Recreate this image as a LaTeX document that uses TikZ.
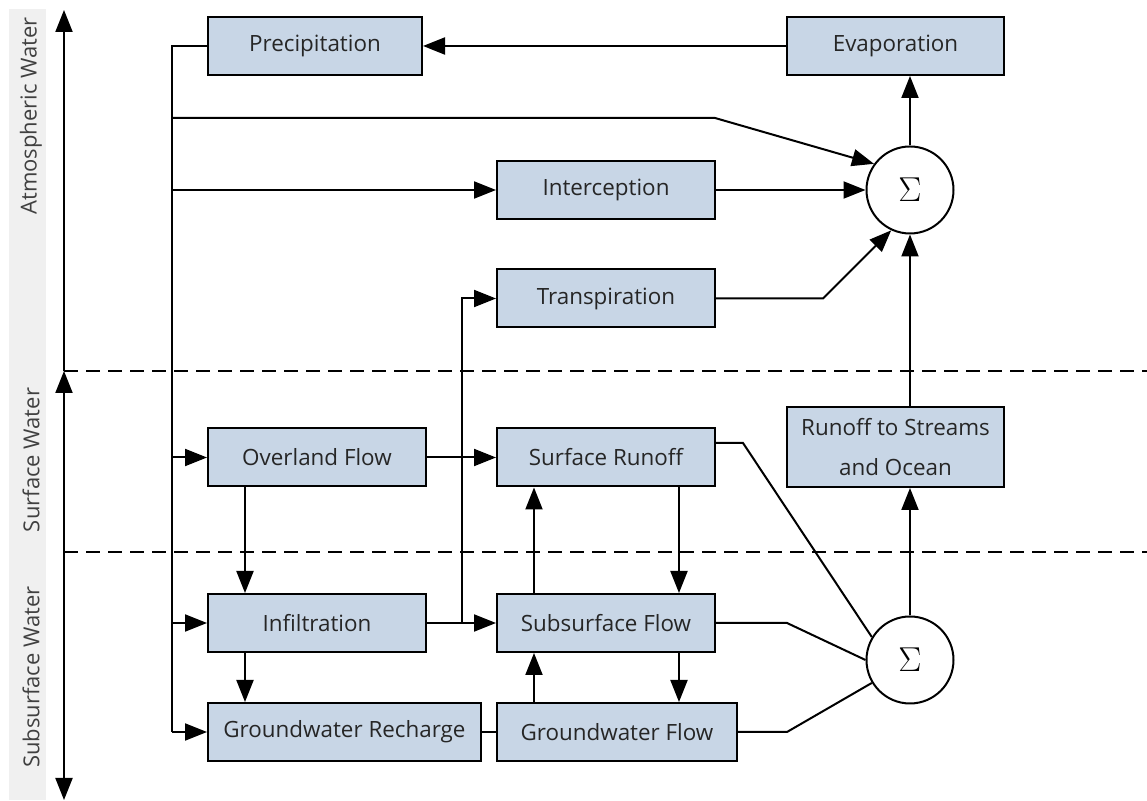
\documentclass[tikz,border=0pt]{standalone}
\usepackage{fontspec}
\setmainfont{Open Sans}
\usepackage{tikz}
\usetikzlibrary{arrows.meta,positioning}
\definecolor{boxfill}{HTML}{C8D6E6}
\definecolor{bandgray}{HTML}{F0F0F0}
\definecolor{darktext}{HTML}{262626}
\definecolor{labeltext}{HTML}{404040}

\begin{document}
\begin{tikzpicture}[
    x=0.5pt, y=0.5pt,
    process/.style={
        draw=black,
        line width=1pt,
        fill=boxfill,
        minimum width=109pt,
        minimum height=29pt,
        inner sep=0pt,
        text=darktext,
        font=\fontsize{11.2}{13}\selectfont
    },
    summer/.style={
        draw=black, circle, line width=1pt, fill=white,
        minimum size=43.5pt, inner sep=0pt,
        font=\fontsize{17}{17}\selectfont
    },
    zone/.style={rotate=90, text=labeltext, font=\fontsize{11}{13}\selectfont},
    line/.style={line width=1pt, draw=black},
    flow/.style={line, -{Triangle[length=11pt,width=8.5pt]}},
    boundary/.style={line, dash pattern=on 7pt off 4pt}
]
    \useasboundingbox (0,0) rectangle (1147,801);
    \fill[bandgray] (9,1) rectangle (46,792);

    \node[zone] (atmos) at (31,685) {Atmospheric Water};
    \node[zone] (surface) at (31,341) {Surface Water};
    \node[zone] (subsurface) at (31,124) {Subsurface Water};

    \coordinate (axtop) at (64,791);
    \coordinate (axone) at (64,430);
    \coordinate (axtwo) at (64,249);
    \coordinate (axbot) at (64,1);
    \draw[flow] (axone) -- (axtop);
    \draw[flow, {Triangle[length=11pt,width=8.5pt]}-] (axone) -- (axtwo);
    \draw[flow] (axtwo) -- (axbot);
    \draw[boundary] (axone) -- (1147,430);
    \draw[boundary] (axtwo) -- (1147,249);

    \node[process, minimum width=107pt] (precip) at (315,755) {Precipitation};
    \node[process, minimum width=108.5pt] (evap) at (895.5,755) {Evaporation};
    \node[process] (intercept) at (606,611) {Interception};
    \node[process] (transp) at (606,502.5) {Transpiration};
    \node[process] (overland) at (317,343.5) {Overland Flow};
    \node[process] (surfrun) at (606,343.5) {Surface Runoff};
    \node[process, minimum width=108.5pt, minimum height=40pt, align=center]
        (streams) at (895.5,354) {Runoff to Streams\\[7pt]and Ocean};
    \node[process] (infil) at (317,178) {Infiltration};
    \node[process] (subflow) at (606,178) {Subsurface Flow};
    \node[process, minimum width=136.5pt] (recharge) at (344.5,69) {Groundwater Recharge};
    \node[process, minimum width=120pt] (gwflow) at (617,69) {Groundwater Flow};

    \node[summer] (sumtop) at (910,611) {$\Sigma$};
    \node[summer] (sumbot) at (910,141) {$\Sigma$};

    \coordinate (bustop) at (172,755);
    \coordinate (busbot) at (172,69);
    \coordinate (bendair) at (715,683);
    \coordinate (bendtr) at (823,502.5);
    \coordinate (bendsr) at (743,358);
    \coordinate (bendsf) at (787,178);
    \coordinate (bendgw) at (787,69);
    \coordinate (dropx) at (245,0);
    \coordinate (splitx) at (462,0);
    \coordinate (upx) at (534,0);
    \coordinate (downx) at (679,0);

    \draw[flow] (evap) -- (precip);
    \draw[line] (precip.west) -- (bustop) -- (busbot);
    \draw[flow] (busbot) -- (recharge);
    \draw[flow] (bustop |- infil) -- (infil);
    \draw[flow] (bustop |- overland) -- (overland);
    \draw[flow] (bustop |- intercept) -- (intercept);
    \draw[flow] (bustop |- bendair) -- (bendair) -- (sumtop.144);

    \draw[flow] (intercept) -- (sumtop);
    \draw[flow] (transp) -- (bendtr) -- (sumtop.245);
    \draw[flow] (sumtop.north) -- (sumtop.north |- evap.south);
    \draw[flow] (sumtop.south |- streams.north) -- (sumtop.south);

    \draw[flow] (overland) -- (surfrun);
    \draw[flow] (infil) -- (subflow);
    \draw[flow] (splitx |- infil) -- (splitx |- transp) -- (transp);
    \draw[flow] (dropx |- overland.south) -- (dropx |- infil.north);
    \draw[flow] (dropx |- infil.south) -- (dropx |- recharge.north);
    \draw[line] (recharge) -- (gwflow);

    \draw[flow] (upx |- subflow.north) -- (upx |- surfrun.south);
    \draw[flow] (downx |- surfrun.south) -- (downx |- subflow.north);
    \draw[flow] (upx |- gwflow.north) -- (upx |- subflow.south);
    \draw[flow] (downx |- subflow.south) -- (downx |- gwflow.north);

    \draw[line] (bendsr -| surfrun.east) -- (bendsr) -- (sumbot.149);
    \draw[line] (subflow) -- (bendsf) -- (sumbot.west);
    \draw[line] (gwflow) -- (bendgw) -- (sumbot.211);
    \draw[flow] (sumbot.north) -- (sumbot.north |- streams.south);
\end{tikzpicture}
\end{document}
